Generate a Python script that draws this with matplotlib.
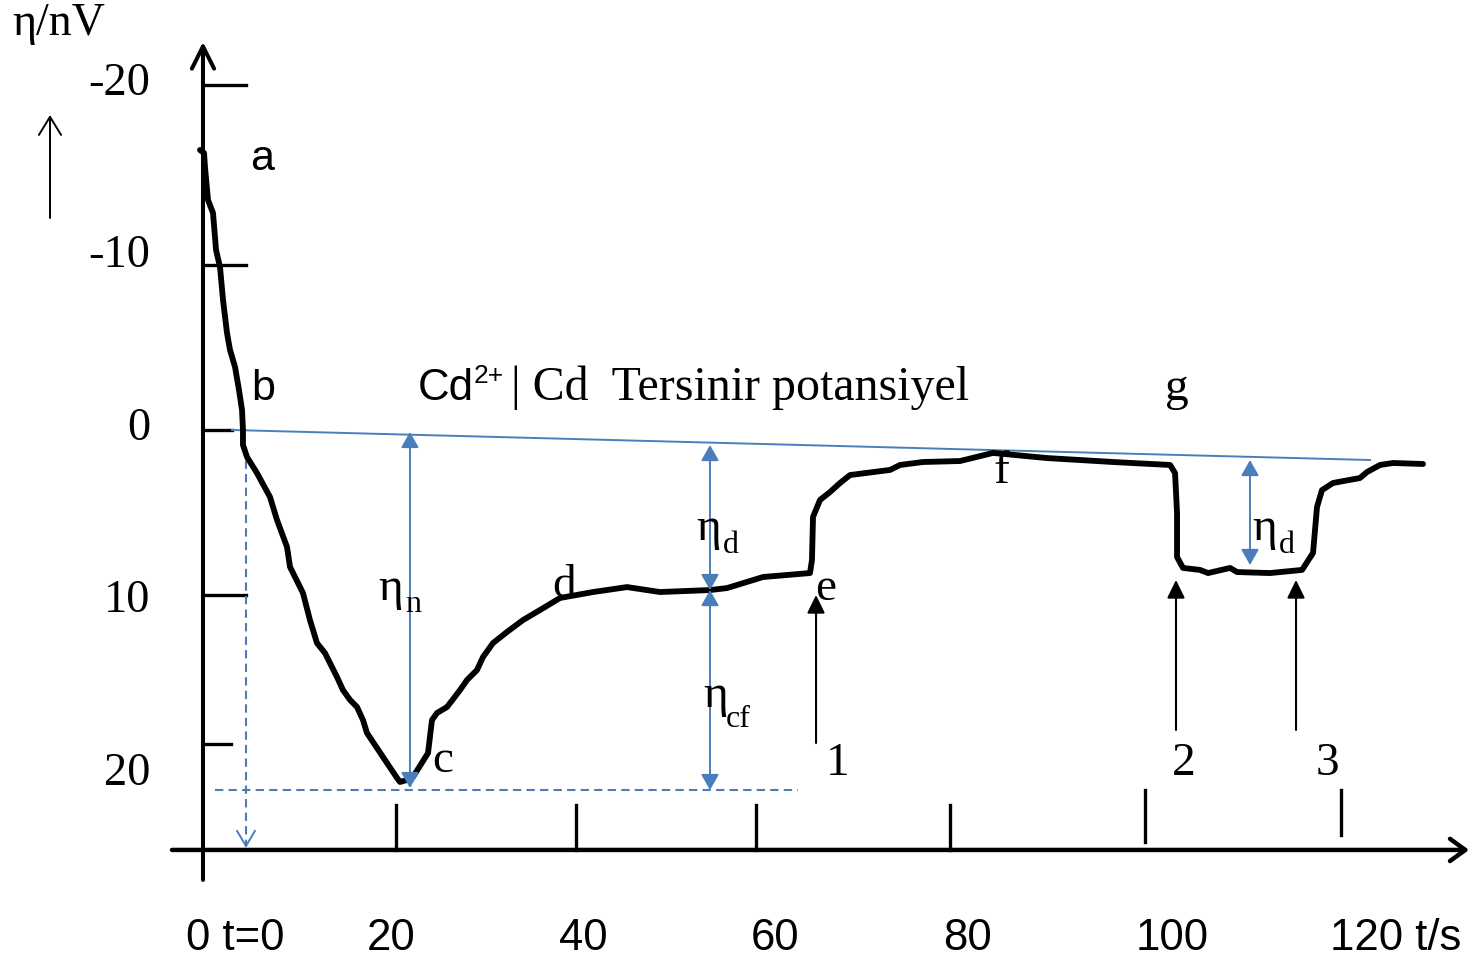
import matplotlib.pyplot as plt

plt.rcParams['font.family'] = ['Liberation Serif', 'DejaVu Serif']

# Cd2+ | Cd elektrot eğrisi: t (s), eta (nV)
t = [-0.32, 0.11, 0.21, 0.53, 1.06, 1.38, 1.80, 2.12, 2.54, 2.86, 3.39, 3.81, 4.13, 4.23, 4.23, 4.66,
     5.71, 7.09, 7.83, 8.89, 9.21, 10.58, 11.32, 12.06, 12.91, 14.18, 14.81, 15.56, 16.30, 16.93, 17.35,
     19.05, 20.53, 20.85, 21.59, 22.22, 23.81, 24.23, 24.76, 25.82, 27.20, 27.94, 28.99, 29.63, 30.69,
     32.17, 33.86, 35.66, 37.78, 41.27, 44.87, 48.36, 53.65, 55.45, 59.26, 64.23, 64.44, 64.55, 65.29,
     66.35, 67.41, 68.47, 72.70, 73.76, 76.19, 80.11, 83.60, 89.31, 96.30, 102.33, 102.86, 103.07,
     103.07, 103.70, 105.50, 106.35, 108.68, 109.42, 112.91, 116.30, 117.46, 117.88, 118.41, 119.58,
     122.43, 123.17, 124.55, 125.93, 129.10]
eta = [-16.97, -16.79, -15.94, -13.94, -13.15, -10.91, -9.88, -7.88, -5.88, -4.85, -3.82, -2.42, -1.21, 0.0, 0.91, 1.64,
       2.61, 4.06, 5.45, 7.09, 8.30, 9.88, 11.52, 12.91, 13.52, 14.97, 15.76, 16.36, 16.79, 17.58, 18.36,
       19.82, 21.09, 21.33, 21.21, 21.03, 19.58, 17.58, 17.15, 16.79, 15.76, 15.15, 14.55, 13.76, 12.91,
       12.24, 11.52, 10.91, 10.18, 9.82, 9.52, 9.82, 9.70, 9.58, 8.91, 8.67, 7.88, 5.27, 4.24,
       3.76, 3.21, 2.73, 2.42, 2.12, 1.94, 1.88, 1.39, 1.70, 1.94, 2.12, 2.61, 5.03,
       7.70, 8.36, 8.48, 8.67, 8.36, 8.61, 8.67, 8.48, 7.45, 4.67, 3.64, 3.21,
       2.91, 2.55, 2.12, 2.00, 2.06]

# tersinir potansiyel çizgisi
base_t = [3.07, 123.49]
base_eta = [0.0, 1.82]

# eksen çentikleri ve etiketleri
ytick_pos = [-20.91, -10.0, 0.0, 10.0, 19.03]
ytick_len = [4.55, 4.55, 3.07, 4.55, 2.96]
ytick_labels = ['-20', '-10', '0', '10', '20']
ytick_label_pos = [-20.30, -9.88, 0.61, 11.03, 21.52]
xtick_pos = [20.42, 39.47, 58.52, 79.05, 99.68, 120.42]
xtick_top = [22.73, 22.73, 22.73, 22.73, 21.82, 21.82]
xtick_bottom = [25.45, 25.45, 25.45, 25.45, 24.97, 24.55]
xtick_labels = ['0 t=0', '20', '40', '60', '80', '100', '120 t/s']
xtick_label_pos = [-1.80, 19.89, 40.21, 60.53, 80.85, 102.54, 119.26]
xtick_label_ha = ['left', 'center', 'center', 'center', 'center', 'center', 'left']

# noktalar
pt_names = ['a', 'b', 'c', 'd', 'e', 'f', 'g']
pt_t = [5.0, 5.1, 24.23, 36.93, 64.76, 83.6, 101.8]
pt_eta = [-15.76, -1.82, 20.73, 10.12, 10.30, 3.21, -1.82]
pt_sans = [True, True, False, False, False, False, False]

# eklemeler 1, 2, 3
add_names = ['1', '2', '3']
add_t = [64.87, 102.96, 115.66]
add_from = [18.97, 18.18, 18.18]
add_to = [10.0, 9.09, 9.09]
add_label_t = [65.93, 102.54, 117.78]

# aşırı gerilim okları ve etiketleri
eta_t = [21.90, 53.65, 53.65, 110.79]
eta_top = [0.12, 0.91, 9.70, 1.82]
eta_bottom = [21.70, 9.70, 21.82, 8.18]
eta_sub = ['n', 'd', 'cf', 'd']
eta_lbl_t = [18.53, 52.18, 52.92, 111.0]
eta_lbl_eta = [10.30, 6.67, 16.79, 6.67]
eta_sub_t = [21.36, 55.0, 55.3, 113.8]
eta_sub_eta = [11.03, 7.45, 18.0, 7.45]

blue = '#4a7ebb'

fig = plt.figure(figsize=(14.7, 9.59), dpi=100)
ax = fig.add_axes([0, 0, 1, 1])
ax.set_xlim(-21.48, 134.07)
ax.set_ylim(32.06, -26.06)
ax.axis('off')


def arrow(x0, y0, x1, y1, style, color='k', lw=1.5, ls='-'):
    ax.annotate('', xy=(x1, y1), xytext=(x0, y0),
                arrowprops=dict(arrowstyle=style, color=color, lw=lw, ls=ls,
                                shrinkA=0, shrinkB=0, mutation_scale=1))


# eksenler
arrow(0, 27.27, 0, -23.52, '->,head_length=16,head_width=8', lw=2.9)
arrow(-3.28, 25.45, 133.97, 25.45, '->,head_length=11,head_width=8', lw=3.2)
for y, x1 in zip(ytick_pos, ytick_len):
    ax.plot([0, x1], [y, y], color='k', lw=2.4)
for x, y0, y1 in zip(xtick_pos, xtick_top, xtick_bottom):
    ax.plot([x, x], [y0, y1], color='k', lw=2.4)
for s, y in zip(ytick_labels, ytick_label_pos):
    ax.text(-5.61, y, s, ha='right', va='baseline', fontsize=33.5)
for s, x, ha in zip(xtick_labels, xtick_label_pos, xtick_label_ha):
    ax.text(x, 31.52, s, ha=ha, va='baseline', fontsize=31.5, family='Liberation Sans')

ax.text(-20.21, -23.94, 'η/nV', ha='left', va='baseline', fontsize=33)
arrow(-16.19, -12.85, -16.19, -19.09, '->,head_length=13,head_width=8', lw=1.4)

# mavi yardımcı çizgiler
ax.plot(base_t, base_eta, color=blue, lw=1.4)
ax.plot([1.27, 62.96], [21.82, 21.82], color=blue, lw=1.5, ls=(0, (4, 2.5)))
ax.plot([4.55, 4.55], [1.03, 25.2], color=blue, lw=1.5, ls=(0, (4, 2.5)))
arrow(4.55, 25.0, 4.55, 25.33, '->,head_length=11,head_width=6.5', color=blue, lw=1.4)

# eğri
ax.plot(t, eta, color='k', lw=4.2, solid_joinstyle='round', solid_capstyle='round')

for x, y0, y1 in zip(eta_t, eta_top, eta_bottom):
    arrow(x, y0, x, y1, '<|-|>,head_length=9.5,head_width=5.4', color=blue, lw=1.4)
for x, y, x2, y2, sub in zip(eta_lbl_t, eta_lbl_eta, eta_sub_t, eta_sub_eta, eta_sub):
    ax.text(x, y, 'η', ha='left', va='baseline', fontsize=34)
    ax.text(x2, y2, sub, ha='left', va='baseline', fontsize=23)

for x, y0, y1 in zip(add_t, add_from, add_to):
    arrow(x, y0, x, y1, '-|>,head_length=11,head_width=5.4', lw=1.5)
for s, x in zip(add_names, add_label_t):
    ax.text(x, 20.91, s, ha='left', va='baseline', fontsize=34)

for s, x, y, sans in zip(pt_names, pt_t, pt_eta, pt_sans):
    ax.text(x, y, s, ha='left', va='baseline', fontsize=31 if sans else 34,
            family='Liberation Sans' if sans else 'Liberation Serif')

ax.text(22.75, -1.82, 'Cd', ha='left', va='baseline', fontsize=31.5, family='Liberation Sans')
ax.text(28.6, -2.85, '2+', ha='left', va='baseline', fontsize=19, family='Liberation Sans')
ax.text(32.6, -1.82, '| Cd  Tersinir potansiyel', ha='left', va='baseline', fontsize=34.5)

fig.savefig('out.png', dpi=100)
